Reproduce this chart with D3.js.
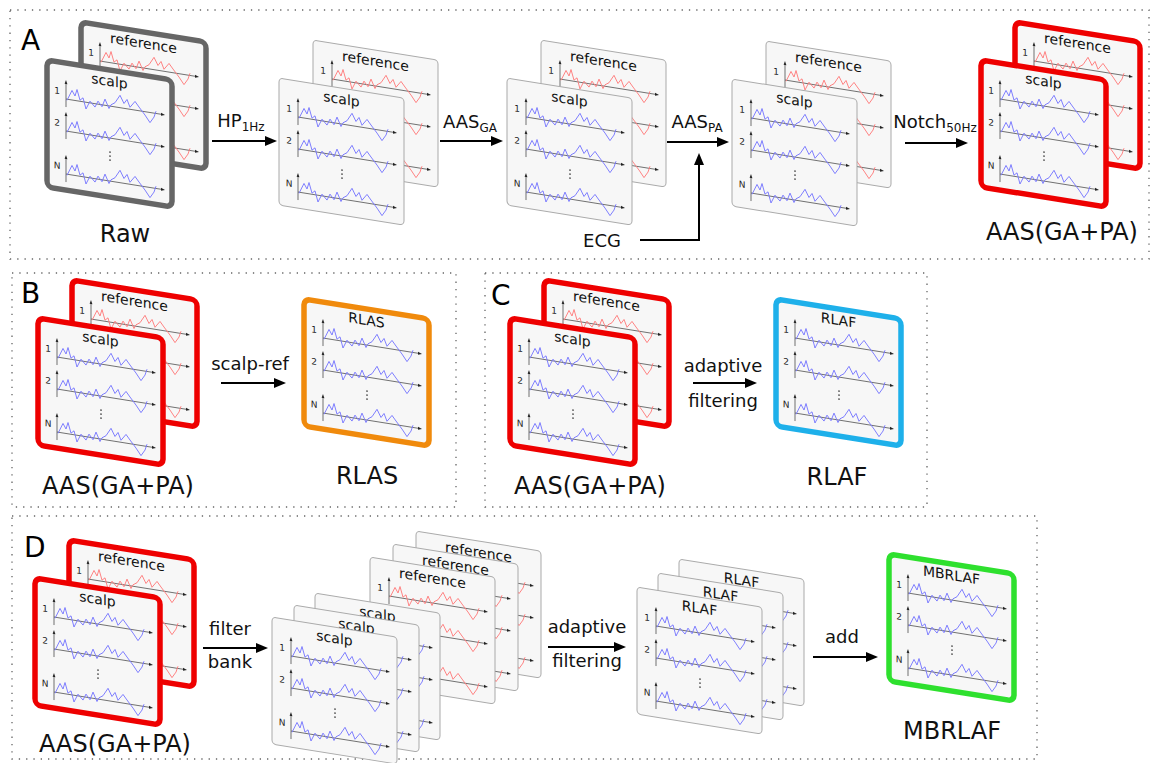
<!DOCTYPE html>
<html>
<head>
<meta charset="utf-8">
<script src="https://cdn.jsdelivr.net/npm/d3@7"></script>
<style>
  body { margin: 0; background: #fff; }
  svg { display: block; font-family: "DejaVu Sans", sans-serif; }
</style>
</head>
<body>
<script>
// texts
const panelLetters = ['A', 'B', 'C', 'D']
const cardTitles = ['scalp', 'reference', 'RLAS', 'RLAF', 'MBRLAF']
const rowLabels = ['1', '2', 'N']
const captions = ['Raw', 'AAS(GA+PA)', 'RLAS', 'RLAF', 'MBRLAF']
const stepMain = ['HP', 'AAS', 'AAS', 'Notch', 'scalp-ref', 'adaptive', 'filter', 'adaptive', 'add']
const stepSub = ['1Hz', 'GA', 'PA', '50Hz', '', 'filtering', 'bank', 'filtering', '']
const ecgLabel = 'ECG'

// the little trace drawn on every channel (time, amplitude; up is positive)
const waveT = [0, 5, 8, 10, 13, 16, 19, 23, 28, 31, 35, 38, 42, 44, 48, 53, 57, 60, 63, 68, 72, 78, 83, 87, 89]
const waveV = [-1, 8.5, 4, 10, 1, 3.5, -6, 1.5, -3, 2.7, -1.7, 5.5, -2.3, 1.3, 3.7, 11, 4.3, 8.3, 1.8, 7.7, 3.3, -3, -9, -3.5, 2]

const W = 125, H = 127, SKEW = 9.1
const rowBase = [36, 68, 111]
const BLUE = '#7676ff', RED = '#ff7a7a'

const xw = d3.scaleLinear().domain([0, 89]).range([20, 109])
const yw = d3.scaleLinear().domain([-12, 12]).range([13.5, -13.5])
const wave = d3.line().x(d => xw(d[0])).y(d => yw(d[1]))
const wavePts = waveT.map((t, i) => [t, waveV[i]])

const svg = d3.select('body').append('svg')
    .attr('width', 1151)
    .attr('height', 763)

// dotted panel frames
const frames = [[10, 10, 1149, 259], [12, 273, 456, 507], [485, 273, 927, 507], [12, 516, 1037, 759]]
frames.forEach(f => {
    svg.append('rect')
        .attr('x', f[0]).attr('y', f[1])
        .attr('width', f[2] - f[0]).attr('height', f[3] - f[1])
        .attr('fill', 'none')
        .attr('stroke', '#666')
        .attr('stroke-width', 1.3)
        .attr('stroke-dasharray', '1.3 6')
})

const letterPos = [[21, 50], [21, 303], [491, 305], [24, 557]]
panelLetters.forEach((l, i) => {
    svg.append('text')
        .attr('x', letterPos[i][0]).attr('y', letterPos[i][1])
        .attr('font-size', 28)
        .text(l)
})

function drawCard(x, y, title, color, border) {
    const c = svg.append('g').attr('transform', `translate(${x},${y}) skewY(${SKEW})`)
    c.append('rect')
        .attr('width', W).attr('height', H)
        .attr('rx', border ? 6 : 4)
        .attr('fill', '#f7f7f7')
        .attr('stroke', border || '#aaa')
        .attr('stroke-width', border ? 5.5 : 1)
    c.append('text')
        .attr('x', W / 2).attr('y', 16)
        .attr('text-anchor', 'middle')
        .attr('font-size', 14)
        .attr('fill', '#111')
        .text(title)

    rowBase.forEach((b, i) => {
        c.append('text')
            .attr('x', 10).attr('y', b - 4)
            .attr('text-anchor', 'middle')
            .attr('font-size', 9)
            .attr('fill', '#222')
            .text(rowLabels[i])
        c.append('line')
            .attr('x1', 19).attr('x2', 19)
            .attr('y1', b + 8).attr('y2', b - 16)
            .attr('stroke', '#555').attr('stroke-width', 0.8)
        c.append('path')
            .attr('d', `M17.6,${b - 15} L19,${b - 19} L20.4,${b - 15}Z`)
            .attr('fill', '#222')
        c.append('line')
            .attr('x1', 19).attr('x2', 114)
            .attr('y1', b).attr('y2', b)
            .attr('stroke', '#555').attr('stroke-width', 0.8)
        c.append('path')
            .attr('d', `M114,${b - 1.4} L118,${b} L114,${b + 1.4}Z`)
            .attr('fill', '#222')
        c.append('path')
            .attr('d', wave(wavePts))
            .attr('transform', `translate(0,${b})`)
            .attr('fill', 'none')
            .attr('stroke', color)
            .attr('stroke-width', 0.9)
    })

    ;[82, 86, 90].forEach(dy => {
        c.append('circle').attr('cx', 63).attr('cy', dy).attr('r', 0.8).attr('fill', '#444')
    })
}

// a scalp card in front of its reference card
function pair(x, y, border) {
    drawCard(x + 34, y - 38, cardTitles[1], RED, border)
    drawCard(x, y, cardTitles[0], BLUE, border)
}

function arrow(x1, y1, x2, y2) {
    const dx = Math.sign(x2 - x1), dy = Math.sign(y2 - y1)
    svg.append('line')
        .attr('x1', x1).attr('y1', y1)
        .attr('x2', x2 - 9 * dx).attr('y2', y2 - 9 * dy)
        .attr('stroke', '#000').attr('stroke-width', 2)
    const px = -dy, py = dx
    svg.append('path')
        .attr('d', `M${x2},${y2} L${x2 - 12 * dx + 5 * px},${y2 - 12 * dy + 5 * py} L${x2 - 12 * dx - 5 * px},${y2 - 12 * dy - 5 * py}Z`)
        .attr('fill', '#000')
}

function label(x, y, main, sub, size) {
    const t = svg.append('text')
        .attr('x', x).attr('y', y)
        .attr('text-anchor', 'middle')
        .attr('font-size', size)
        .attr('fill', '#111')
    t.append('tspan').text(main)
    if (sub) t.append('tspan').attr('font-size', 12).attr('dy', 4).text(sub)
}

function twoLine(x, y1, y2, a, b) {
    label(x, y1, a, '', 18)
    label(x, y2, b, '', 18)
}

// panel A
pair(47, 60, '#666')
pair(279, 78, null)
pair(507, 78, null)
pair(732, 79, null)
pair(981, 60, '#ee0000')

label(241, 127, stepMain[0], stepSub[0], 18)
arrow(212, 141, 277, 141)
label(470, 128, stepMain[1], stepSub[1], 18)
arrow(440, 141, 503, 141)
label(697, 128, stepMain[2], stepSub[2], 18)
arrow(667, 142, 729, 142)
label(935, 128, stepMain[3], stepSub[3], 18)
arrow(905, 143, 968, 143)

label(602, 247, ecgLabel, '', 18)
svg.append('path')
    .attr('d', 'M640,240 H699 V162')
    .attr('fill', 'none').attr('stroke', '#000').attr('stroke-width', 2)
arrow(699, 170, 699, 153)

label(125, 242, captions[0], '', 24)
label(1062, 240, captions[1], '', 24)

// panel B
pair(38, 318, '#ee0000')
drawCard(304, 299, cardTitles[2], BLUE, '#f08a0c')
label(250, 370, stepMain[4], '', 18)
arrow(221, 383, 286, 383)
label(118, 494, captions[1], '', 24)
label(367, 484, captions[2], '', 24)

// panel C
pair(510, 318, '#ee0000')
drawCard(776, 299, cardTitles[3], BLUE, '#1eb0ea')
twoLine(723, 372, 407, stepMain[5], stepSub[5])
arrow(693, 383, 757, 383)
label(590, 494, captions[1], '', 24)
label(837, 485, captions[3], '', 24)

// panel D
pair(35, 578, '#ee0000')
twoLine(230, 635, 668, stepMain[6], stepSub[6])
arrow(203, 648, 268, 648)

;[[416, 531], [393, 544], [370, 557]].forEach(p => drawCard(p[0], p[1], cardTitles[1], RED, null))
;[[315, 593], [294, 605], [272, 617]].forEach(p => drawCard(p[0], p[1], cardTitles[0], BLUE, null))

twoLine(587, 633, 667, stepMain[7], stepSub[7])
arrow(548, 647, 626, 647)

;[[679, 559], [658, 573], [637, 587]].forEach(p => drawCard(p[0], p[1], cardTitles[3], BLUE, null))

label(842, 643, stepMain[8], '', 18)
arrow(813, 657, 878, 657)
drawCard(889, 554, cardTitles[4], BLUE, '#2ee02e')

label(115, 752, captions[1], '', 24)
label(952, 739, captions[4], '', 24)
</script>
</body>
</html>
